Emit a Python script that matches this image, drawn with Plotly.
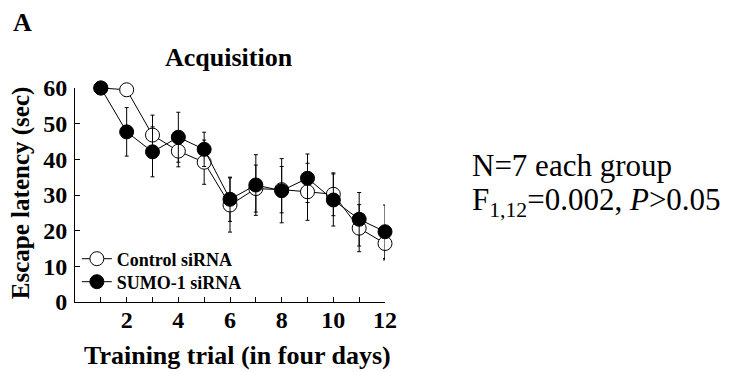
import plotly.graph_objects as go

trials = [1, 2, 3, 4, 5, 6, 7, 8, 9, 10, 11, 12]
control_mean = [60, 59.5, 46.8, 42.3, 39.2, 27.2, 31.8, 31.5, 30.9, 30.2, 20.7, 16.4]
control_sem = [0, 0.5, 5.6, 4.4, 6.2, 7.6, 6.6, 6.5, 8.0, 6.0, 6.6, 4.6]
sumo_mean = [60, 47.7, 42.1, 46.2, 42.8, 28.8, 32.8, 31.2, 34.7, 28.6, 23.2, 19.7]
sumo_sem = [0, 6.8, 7.0, 7.0, 4.8, 6.2, 8.5, 9.0, 6.8, 7.3, 7.5, 7.5]
x_tickvals = [1, 2, 3, 4, 5, 6, 7, 8, 9, 10, 11, 12]
x_ticktext = ["", "2", "", "4", "", "6", "", "8", "", "10", "", "12"]
y_tickvals = [0, 10, 20, 30, 40, 50, 60]

SERIF = "Liberation Serif, Times New Roman, serif"

fig = go.Figure()
fig.add_trace(go.Scatter(
    x=trials, y=control_mean, name="Control siRNA", mode="lines+markers",
    line=dict(color="black", width=1),
    marker=dict(symbol="circle", size=14, color="white", line=dict(color="black", width=1)),
    error_y=dict(type="data", array=control_sem, visible=True, color="black", thickness=1, width=2),
    cliponaxis=False, legend="legend",
))
fig.add_trace(go.Scatter(
    x=trials, y=sumo_mean, name="SUMO-1 siRNA", mode="lines+markers",
    line=dict(color="black", width=1),
    marker=dict(symbol="circle", size=14, color="black", line=dict(color="black", width=1)),
    error_y=dict(type="data", array=sumo_sem, visible=True, color="black", thickness=1, width=2),
    cliponaxis=False, legend="legend2",
))

# page offset of 8px (default body margin) is compensated in the figure size/margins
PL, PT = 75 - 8, 88 - 8
W, H = 725, 364
tickfont = dict(family=SERIF, size=24, color="black", weight="bold")
legfont = dict(family=SERIF, size=18, color="black", weight="bold")
fig.update_layout(
    width=W, height=H,
    margin=dict(l=PL, r=W - (PL + 310), t=PT, b=H - (PT + 214), pad=0),
    paper_bgcolor="white", plot_bgcolor="white",
    showlegend=True,
    legend=dict(x=0.006, y=(302 - 259) / 214, xanchor="left", yanchor="middle",
                bgcolor="rgba(0,0,0,0)", borderwidth=0, font=legfont, itemwidth=30),
    legend2=dict(x=0.006, y=(302 - 282) / 214, xanchor="left", yanchor="middle",
                 bgcolor="rgba(0,0,0,0)", borderwidth=0, font=legfont, itemwidth=30),
    xaxis=dict(range=[0, 12], tickmode="array", tickvals=x_tickvals, ticktext=x_ticktext,
               ticks="inside", ticklen=5, tickwidth=1, tickcolor="black",
               showline=True, linecolor="black", linewidth=1, showgrid=False, zeroline=False,
               tickfont=tickfont, ticklabelstandoff=-4),
    yaxis=dict(range=[0, 60], tickmode="array", tickvals=y_tickvals,
               ticks="inside", ticklen=5, tickwidth=1, tickcolor="black",
               showline=True, linecolor="black", linewidth=1, showgrid=False, zeroline=False,
               tickfont=tickfont, ticklabelstandoff=2),
)

fig.add_annotation(text="Acquisition", xref="paper", yref="paper", x=0.497, y=1.142,
                   xanchor="center", yanchor="middle", showarrow=False,
                   font=dict(family=SERIF, size=26, color="black", weight="bold"))
fig.add_annotation(text="A", xref="paper", yref="paper", x=-0.205, y=(302 - 22) / 214,
                   xanchor="left", yanchor="middle", showarrow=False,
                   font=dict(family=SERIF, size=26, color="black", weight="bold"))
fig.add_annotation(text="Training trial (in four days)", xref="paper", yref="paper",
                   x=0.523, y=-0.248, xanchor="center", yanchor="middle", showarrow=False,
                   font=dict(family=SERIF, size=26, color="black", weight="bold"))
fig.add_annotation(text="Escape latency (sec)", xref="paper", yref="paper",
                   x=-0.174, y=0.509, xanchor="center", yanchor="middle", showarrow=False,
                   textangle=-90,
                   font=dict(family=SERIF, size=25, color="black", weight="bold"))
fig.add_annotation(text="N=7 each group", xref="paper", yref="paper",
                   x=(470 - 75) / 310, y=(302 - 165) / 214, xanchor="left", yanchor="middle",
                   showarrow=False, font=dict(family=SERIF, size=31, color="black"))
fig.add_annotation(text="F<sub>1,12</sub>=0.002, <i>P</i>>0.05", xref="paper", yref="paper",
                   x=(470 - 75) / 310, y=(302 - 202) / 214, xanchor="left", yanchor="middle",
                   showarrow=False, font=dict(family=SERIF, size=31, color="black"))

fig.write_html("out.html")
